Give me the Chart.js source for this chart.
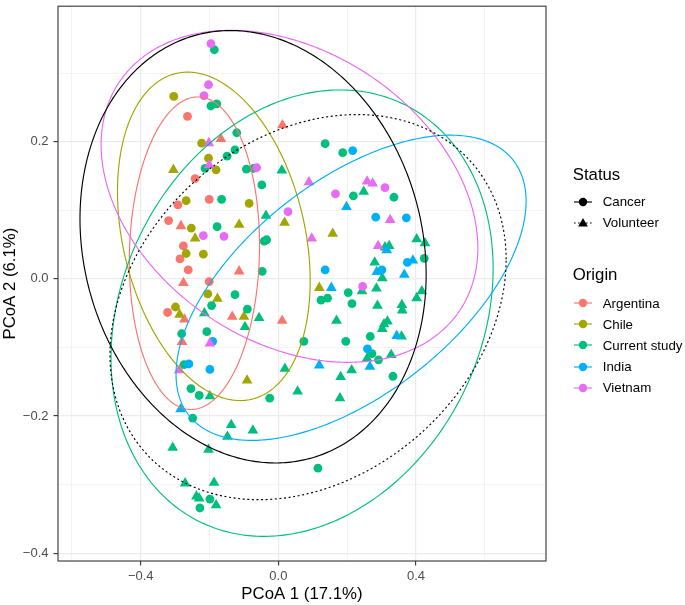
<!DOCTYPE html>
<html><head><meta charset="utf-8">
<script src="https://cdn.jsdelivr.net/npm/chart.js@4.4.1/dist/chart.umd.min.js"></script>
<style>
html,body{margin:0;padding:0;background:#fff;}
#wrap{position:relative;width:685px;height:605px;font-family:"Liberation Sans",Arial,Helvetica,sans-serif;background:#fff;}
#c{position:absolute;left:0;top:0;}
.lg{position:absolute;line-height:1;white-space:nowrap;color:#000;}
.lt{font-size:16.8px;}
.li{font-size:13.3px;}
.key{position:absolute;width:18px;height:14px;}
</style></head><body>
<div id="wrap"><canvas id="c" width="685" height="605"></canvas><div id="legend"></div></div>
<script>
// ---------------- data ----------------
const xTitle = 'PCoA 1 (17.1%)';
const yTitle = 'PCoA 2 (6.1%)';
const statusLabels = ['Cancer', 'Volunteer'];
const originLabels = ['Argentina', 'Chile', 'Current study', 'India', 'Vietnam'];

const argentinaCancer = [[-0.264,0.237],[-0.242,0.146],[-0.201,0.116],[-0.292,0.108],[-0.319,0.085],[-0.276,0.048],[-0.286,0.029],[-0.262,0.013],[-0.201,-0.004],[-0.322,-0.049]];
const argentinaVolunteer = [[0.012,0.224],[-0.167,0.204],[-0.283,0.077],[-0.114,0.011],[-0.276,-0.006],[-0.273,-0.059],[-0.134,-0.055],[0.011,-0.061],[-0.280,-0.092]];
const chileCancer = [[-0.304,0.266],[-0.223,0.198],[-0.203,0.176],[-0.181,0.159],[-0.268,0.114],[-0.085,0.110],[-0.253,0.074],[-0.268,0.037],[-0.218,0.036],[-0.205,-0.022],[-0.299,-0.041]];
const chileVolunteer = [[-0.305,0.159],[-0.114,0.079],[0.018,0.082],[-0.242,0.059],[-0.177,-0.029],[-0.287,-0.052],[-0.100,-0.055],[0.158,0.066],[0.119,-0.013],[-0.091,-0.148]];
const currentCancer = [[-0.186,0.334],[-0.196,0.252],[-0.179,0.255],[-0.121,0.213],[-0.126,0.188],[-0.149,0.179],[-0.213,0.161],[-0.093,0.160],[-0.072,0.161],[-0.048,0.137],[-0.165,0.116],[-0.178,0.076],[-0.041,0.055],[-0.034,0.057],[-0.047,0.011],[-0.126,-0.023],[-0.194,-0.039],[-0.090,-0.044],[-0.281,-0.080],[-0.208,-0.077],[-0.274,-0.125],[-0.254,-0.160],[-0.230,-0.170],[-0.025,-0.174],[-0.249,-0.203],[-0.199,-0.321],[-0.228,-0.334],[0.136,0.197],[0.187,0.184],[0.218,0.121],[0.336,0.119],[0.424,0.030],[0.124,-0.031],[0.143,-0.028],[0.203,-0.020],[0.214,-0.036],[0.267,-0.084],[0.074,-0.091],[0.196,-0.091],[0.272,-0.109],[0.291,-0.118],[0.333,-0.142],[0.115,-0.276]];
const currentVolunteer = [[0.010,0.158],[-0.036,0.092],[-0.215,-0.050],[-0.056,-0.057],[-0.097,-0.070],[-0.199,-0.171],[0.019,-0.131],[0.056,-0.164],[-0.137,-0.213],[-0.074,-0.221],[-0.148,-0.230],[-0.307,-0.246],[-0.203,-0.249],[-0.271,-0.298],[-0.187,-0.297],[-0.238,-0.317],[-0.230,-0.320],[-0.181,-0.330],[0.248,0.127],[0.402,0.058],[0.426,0.052],[0.310,0.046],[0.322,0.048],[0.280,0.024],[0.302,0.001],[0.243,-0.018],[0.285,-0.014],[0.417,-0.018],[0.402,-0.028],[0.288,-0.039],[0.359,-0.038],[0.360,-0.046],[0.169,-0.061],[0.317,-0.062],[0.307,-0.066],[0.302,-0.073],[0.358,-0.084],[0.258,-0.116],[0.328,-0.111],[0.181,-0.143],[0.213,-0.133],[0.179,-0.174]];
const indiaCancer = [[0.216,0.187],[0.283,0.090],[0.372,0.089],[0.375,0.024],[0.301,0.013],[0.136,0.013],[0.259,-0.102],[-0.191,-0.091],[-0.260,-0.124],[-0.199,-0.132]];
const indiaVolunteer = [[0.198,0.105],[0.391,0.027],[0.286,0.010],[0.366,0.006],[0.315,0.042],[0.154,-0.013],[0.344,-0.083],[0.119,-0.126],[0.266,-0.128],[-0.284,-0.190]];
const vietnamCancer = [[-0.196,0.343],[-0.203,0.283],[-0.216,0.267],[-0.063,0.162],[0.028,0.098],[-0.218,0.063],[-0.158,0.062],[0.166,0.124],[0.310,0.133],[0.245,-0.011]];
const vietnamVolunteer = [[-0.202,0.198],[-0.201,0.166],[0.089,0.141],[0.258,0.142],[0.274,0.139],[0.325,0.086],[0.097,0.059],[0.290,0.048],[-0.199,-0.094],[-0.288,-0.133]];

// confidence ellipses (centre, half-width, half-height, correlation) in data units
const ellipseNames = ['Argentina','Chile','Current study','India','Vietnam','Cancer','Volunteer'];
const ellipseCX  = [-0.2439,-0.1875, 0.0689, 0.2113, 0.0323,-0.0735, 0.0863];
const ellipseCY  = [ 0.0374, 0.0620,-0.0500,-0.0130, 0.1203, 0.0468,-0.0412];
const ellipseHW  = [ 0.1892, 0.2800, 0.5552, 0.5087, 0.5474, 0.5030, 0.5756];
const ellipseHH  = [ 0.2278, 0.2394, 0.3254, 0.2225, 0.2420, 0.3152, 0.2807];
const ellipseRho = [ 0.051, -0.272,  0.200,  0.567, -0.311, -0.129,  0.248];

const xTickLabelsShown = [-0.4, 0.0, 0.4];
const yTickLabelsShown = [-0.4, -0.2, 0.0, 0.2];

// ---------------- styles ----------------
const originColors = {'Argentina':'#F8766D','Chile':'#A3A500','Current study':'#00BF7D','India':'#00B0F6','Vietnam':'#E76BF3'};
const ellipseStyle = {
  'Cancer': {color:'#000000', dash:[]},
  'Volunteer': {color:'#000000', dash:[2,2.6]}
};
const groups = {
  'Argentina': [argentinaCancer, argentinaVolunteer],
  'Chile': [chileCancer, chileVolunteer],
  'Current study': [currentCancer, currentVolunteer],
  'India': [indiaCancer, indiaVolunteer],
  'Vietnam': [vietnamCancer, vietnamVolunteer]
};

const datasets = [];
['Vietnam','India','Current study','Chile','Argentina'].forEach(o => {
  statusLabels.forEach((s, si) => {
    datasets.push({
      label: o + ' / ' + s,
      data: groups[o][si].map(p => ({x: p[0], y: p[1]})),
      pointStyle: si === 0 ? 'circle' : 'triangle',
      pointRadius: si === 0 ? 4.4 : 6.2,
      pointHoverRadius: si === 0 ? 4.4 : 6.2,
      backgroundColor: originColors[o],
      borderColor: originColors[o],
      borderWidth: 0
    });
  });
});

const near = (v, arr) => arr.some(a => Math.abs(a - v) < 1e-6);
const fmt = v => { const s = Math.abs(v).toFixed(1); return v < -1e-9 ? '\u2212' + s : s; };
const isMajorX = v => Math.abs(v/0.4 - Math.round(v/0.4)) < 1e-6;
const isMajorY = v => Math.abs(v/0.2 - Math.round(v/0.2)) < 1e-6;

const ellipsePlugin = {
  id: 'ellipses',
  afterDatasetsDraw(chart) {
    const {ctx, chartArea: a, scales: {x, y}} = chart;
    ctx.save();
    ctx.beginPath(); ctx.rect(a.left, a.top, a.right - a.left, a.bottom - a.top); ctx.clip();
    ellipseNames.forEach((name, i) => {
      const st = originColors[name] ? {color: originColors[name], dash: []} : ellipseStyle[name];
      const s = Math.sqrt(1 - ellipseRho[i] * ellipseRho[i]);
      ctx.beginPath();
      const N = 400;
      for (let k = 0; k <= N; k++) {
        const t = 2 * Math.PI * k / N;
        const dx = ellipseCX[i] + ellipseHW[i] * Math.cos(t);
        const dy = ellipseCY[i] + ellipseHH[i] * (ellipseRho[i] * Math.cos(t) + s * Math.sin(t));
        const px = x.getPixelForValue(dx), py = y.getPixelForValue(dy);
        if (k === 0) ctx.moveTo(px, py); else ctx.lineTo(px, py);
      }
      ctx.closePath();
      ctx.strokeStyle = st.color;
      ctx.lineWidth = 1.15;
      ctx.setLineDash(st.dash);
      ctx.stroke();
    });
    ctx.restore();
  }
};
const borderPlugin = {
  id: 'panelBorder',
  afterDraw(chart) {
    const {ctx, chartArea: a} = chart;
    ctx.save();
    ctx.strokeStyle = '#333333';
    ctx.lineWidth = 1.1;
    ctx.strokeRect(a.left, a.top, a.right - a.left, a.bottom - a.top);
    ctx.restore();
  }
};
const bgPlugin = {
  id: 'bg',
  beforeDraw(chart) {
    const {ctx} = chart;
    ctx.save(); ctx.fillStyle = '#fff'; ctx.fillRect(0, 0, chart.width, chart.height); ctx.restore();
  }
};

Chart.defaults.font.family = '"Liberation Sans", Arial, Helvetica, sans-serif';

new Chart(document.getElementById('c'), {
  type: 'scatter',
  data: {datasets},
  options: {
    responsive: false,
    animation: false,
    devicePixelRatio: 1,
    layout: {padding: {left: 0, top: 2.5, right: 139, bottom: 0}},
    plugins: {legend: {display: false}, tooltip: {enabled: false}},
    scales: {
      x: {
        type: 'linear', min: -0.6404, max: 0.7778,
        afterFit(scale) { scale.height = 44; scale.paddingLeft = 0; scale.paddingRight = 0; },
        border: {display: false},
        grid: {
          color: '#EBEBEB',
          lineWidth: c => isMajorX(c.tick.value) ? 1.2 : 0.6,
          tickColor: c => isMajorX(c.tick.value) ? '#333333' : 'rgba(0,0,0,0)',
          tickLength: 4.5, tickWidth: 1.1, drawTicks: true
        },
        ticks: {
          stepSize: 0.2, includeBounds: false, autoSkip: false, maxRotation: 0, padding: 3,
          color: '#4D4D4D', font: {size: 13},
          callback: v => near(v, xTickLabelsShown) ? fmt(v) : ''
        },
        title: {display: true, text: xTitle, color: '#000', font: {size: 16.8}, padding: {top: 0, bottom: 1}}
      },
      y: {
        type: 'linear', min: -0.4113, max: 0.3975,
        afterFit(scale) { scale.width = 58; scale.paddingTop = 0; scale.paddingBottom = 0; },
        border: {display: false},
        grid: {
          color: '#EBEBEB',
          lineWidth: c => isMajorY(c.tick.value) ? 1.2 : 0.6,
          tickColor: c => isMajorY(c.tick.value) ? '#333333' : 'rgba(0,0,0,0)',
          tickLength: 4.5, tickWidth: 1.1, drawTicks: true
        },
        ticks: {
          stepSize: 0.1, includeBounds: false, autoSkip: false, padding: 5,
          color: '#4D4D4D', font: {size: 13},
          callback: v => near(v, yTickLabelsShown) ? fmt(v) : ''
        },
        title: {display: true, text: yTitle, color: '#000', font: {size: 16.8}, padding: {top: 0, bottom: 0}}
      }
    }
  },
  plugins: [bgPlugin, ellipsePlugin, borderPlugin]
});

// ---------------- legend (HTML) ----------------
const legend = document.getElementById('legend');
function addText(txt, cls, left, top) {
  const d = document.createElement('div');
  d.className = 'lg ' + cls; d.textContent = txt;
  d.style.left = left + 'px'; d.style.top = top + 'px';
  legend.appendChild(d);
}
function addKey(color, shape, dashed, cy) {
  const ns = 'http://www.w3.org/2000/svg';
  const svg = document.createElementNS(ns, 'svg');
  svg.setAttribute('class', 'key');
  svg.setAttribute('width', '18'); svg.setAttribute('height', '14');
  svg.style.left = '574.3px'; svg.style.top = (cy - 7) + 'px';
  const ln = document.createElementNS(ns, 'line');
  ln.setAttribute('x1', '0'); ln.setAttribute('x2', '18'); ln.setAttribute('y1', '7'); ln.setAttribute('y2', '7');
  ln.setAttribute('stroke', color); ln.setAttribute('stroke-width', '1.15');
  if (dashed) ln.setAttribute('stroke-dasharray', '1.6 2.4');
  svg.appendChild(ln);
  let mk;
  if (shape === 'circle') {
    mk = document.createElementNS(ns, 'circle');
    mk.setAttribute('cx', '9'); mk.setAttribute('cy', '7'); mk.setAttribute('r', '4.2');
  } else {
    mk = document.createElementNS(ns, 'polygon');
    const r = 5.6, cx = 9, cyy = 7.6;
    mk.setAttribute('points', `${cx},${cyy - r} ${cx + r * 0.866},${cyy + r / 2} ${cx - r * 0.866},${cyy + r / 2}`);
  }
  mk.setAttribute('fill', color);
  svg.appendChild(mk);
  legend.appendChild(svg);
}
addText('Status', 'lt', 572.7, 166.5);
const statusRowsY = [201.7, 222.7];
statusLabels.forEach((s, i) => {
  addKey('#000', i === 0 ? 'circle' : 'triangle', i === 1, statusRowsY[i]);
  addText(s, 'li', 602.7, statusRowsY[i] - 6.7);
});
addText('Origin', 'lt', 572.7, 266.8);
const originRowsY = [303.3, 324.3, 345.3, 366.7, 387.7];
originLabels.forEach((o, i) => {
  addKey(originColors[o], 'circle', false, originRowsY[i]);
  addText(o, 'li', 602.7, originRowsY[i] - 6.7);
});
</script></body></html>
